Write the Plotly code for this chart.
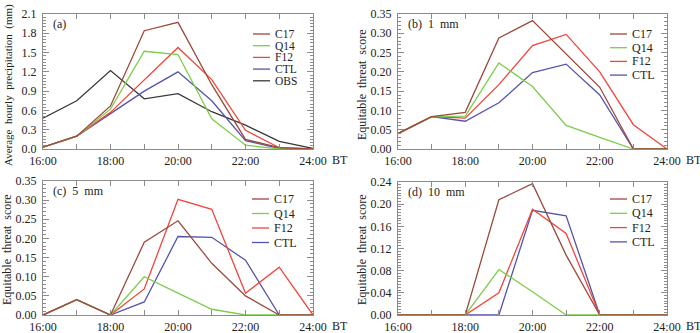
import plotly.graph_objects as go

hours = [16, 17, 18, 19, 20, 21, 22, 23, 24]
xtick_vals = [16, 17, 18, 19, 20, 21, 22, 23, 24]
xtick_text = ["16:00", "", "18:00", "", "20:00", "", "22:00", "", "24:00"]

# (a) average hourly precipitation (mm)
a_C17 = [0.03, 0.20, 0.67, 1.84, 1.97, 1.00, 0.15, 0.02, 0.00]
a_Q14 = [0.03, 0.20, 0.62, 1.52, 1.47, 0.47, 0.06, 0.00, 0.00]
a_F12 = [0.03, 0.20, 0.57, 1.07, 1.58, 1.08, 0.29, 0.02, 0.00]
a_CTL = [0.03, 0.20, 0.55, 0.90, 1.20, 0.75, 0.13, 0.01, 0.00]
a_OBS = [0.48, 0.75, 1.22, 0.78, 0.86, 0.58, 0.37, 0.12, 0.01]

# (b) ETS 1 mm
b_C17 = [0.040, 0.084, 0.095, 0.288, 0.333, 0.247, 0.160, 0.000, 0.000]
b_Q14 = [0.040, 0.084, 0.085, 0.223, 0.162, 0.061, 0.030, 0.000, 0.000]
b_F12 = [0.040, 0.084, 0.080, 0.167, 0.268, 0.297, 0.200, 0.063, 0.000]
b_CTL = [0.040, 0.084, 0.072, 0.120, 0.198, 0.220, 0.140, 0.000, 0.000]

# (c) ETS 5 mm
c_C17 = [0.000, 0.040, 0.000, 0.190, 0.246, 0.135, 0.050, 0.000, 0.000]
c_Q14 = [0.000, 0.040, 0.000, 0.100, 0.057, 0.015, 0.000, 0.000, 0.000]
c_F12 = [0.000, 0.040, 0.000, 0.068, 0.302, 0.276, 0.057, 0.125, 0.000]
c_CTL = [0.000, 0.040, 0.000, 0.034, 0.205, 0.203, 0.143, 0.000, 0.000]

# (d) ETS 10 mm
d_C17 = [0.000, 0.000, 0.000, 0.208, 0.237, 0.108, 0.000, 0.000, 0.000]
d_Q14 = [0.000, 0.000, 0.000, 0.082, 0.042, 0.000, 0.000, 0.000, 0.000]
d_F12 = [0.000, 0.000, 0.000, 0.040, 0.191, 0.147, 0.000, 0.000, 0.000]
d_CTL = [0.000, 0.000, 0.000, 0.000, 0.189, 0.179, 0.000, 0.000, 0.000]

series_names = ["C17", "Q14", "F12", "CTL", "OBS"]
colors = {"C17": "#9c4a3c", "Q14": "#7ccd4a", "F12": "#f2453a",
          "CTL": "#5454ac", "OBS": "#383838"}

W, H = 700, 333
FONT = "Liberation Serif, Times New Roman, serif"
FRAME = "#8c8c8c"
FS = 12

def px(x):
    return x / W

def py(y):
    return 1 - y / H

panels = [
    ("a", {"C17": a_C17, "Q14": a_Q14, "F12": a_F12, "CTL": a_CTL, "OBS": a_OBS},
     (43, 313), (14, 149), (0, 2.1), 0.3, 0.05, ".1f",
     "Average\u00a0 hourly\u00a0 precipitation\u00a0 (mm)", 11, 85, "(a)", (253, 34, 11.7), 8, 11.5),
    ("b", {"C17": b_C17, "Q14": b_Q14, "F12": b_F12, "CTL": b_CTL},
     (398, 667), (14, 149), (0, 0.35), 0.05, 0.01, ".2f",
     "Equitable\u00a0 threat\u00a0 score", 12, 85, "(b)\u00a0 1\u00a0 mm", (610, 34, 13.7), 362, 12),
    ("c", {"C17": c_C17, "Q14": c_Q14, "F12": c_F12, "CTL": c_CTL},
     (43, 313), (181, 315), (0, 0.35), 0.05, 0.01, ".2f",
     "Equitable\u00a0 threat\u00a0 score", 12, 250, "(c)\u00a0 5\u00a0 mm", (252, 199, 14.5), 7, 12),
    ("d", {"C17": d_C17, "Q14": d_Q14, "F12": d_F12, "CTL": d_CTL},
     (398, 667), (182, 315), (0, 0.24), 0.04, 0.005, ".2f",
     "Equitable\u00a0 threat\u00a0 score", 12, 250, "(d)\u00a0 10\u00a0 mm", (610, 199, 14.3), 362, 12),
]

fig = go.Figure()
annotations = []
shapes = []

for i, (key, data, (x0, x1), (yt, yb), yr, ydt, ymin, fmt, ylab, ylfs, ylc, plab, (lx, ly, lstep), ytx, lfs) in enumerate(panels):
    suffix = "" if i == 0 else str(i + 1)
    xa = "x" + suffix
    ya = "y" + suffix
    for name in ["OBS", "CTL", "F12", "Q14", "C17"]:
        if name not in data:
            continue
        fig.add_trace(go.Scatter(x=hours, y=data[name], mode="lines", name=name,
                                 line=dict(color=colors[name], width=1.3),
                                 xaxis=xa, yaxis=ya, showlegend=False, hoverinfo="skip"))
    axis_common = dict(showline=True, linecolor=FRAME, linewidth=1, mirror="ticks",
                       ticks="inside", tickcolor=FRAME, showgrid=False, zeroline=False,
                       automargin=False,
                       tickfont=dict(family=FONT, size=FS, color="#222"))
    fig.layout["xaxis" + suffix] = dict(
        domain=[px(x0), px(x1)], range=[16, 24], anchor=ya,
        tickmode="array", tickvals=xtick_vals, ticktext=xtick_text, ticklen=5,
        ticklabelstandoff=1,
        **axis_common)
    fig.layout["yaxis" + suffix] = dict(
        domain=[py(yb), py(yt)], range=list(yr), anchor=xa,
        tick0=0, dtick=ydt, tickformat=fmt, ticklen=6, ticklabelstandoff=3,
        minor=dict(dtick=ymin, ticklen=3, tickcolor=FRAME, ticks="inside"),
        **axis_common)
    annotations.append(dict(text=ylab, x=px(ytx), y=py(ylc), xref="paper", yref="paper",
                            textangle=-90, showarrow=False, xanchor="center", yanchor="middle",
                            font=dict(family=FONT, size=ylfs, color="#222")))
    annotations.append(dict(text="BT", x=px(x1 + 27), y=py(yb + 11), xref="paper", yref="paper",
                            showarrow=False, xanchor="center", yanchor="middle",
                            font=dict(family=FONT, size=FS, color="#222")))
    annotations.append(dict(text=plab, x=px(x0 + 8), y=py(yt + 10), xref="paper", yref="paper",
                            showarrow=False, xanchor="left", yanchor="middle",
                            font=dict(family=FONT, size=FS, color="#222")))
    for j, name in enumerate([n for n in series_names if n in data]):
        yy = ly + j * lstep
        shapes.append(dict(type="line", xref="paper", yref="paper",
                           x0=px(lx), x1=px(lx + 17), y0=py(yy), y1=py(yy),
                           line=dict(color=colors[name], width=1.3)))
        annotations.append(dict(text=name, x=px(lx + 20), y=py(yy), xref="paper", yref="paper",
                                showarrow=False, xanchor="left", yanchor="middle",
                                font=dict(family=FONT, size=lfs, color="#222")))

fig.update_layout(template="none", width=W, height=H, margin=dict(l=0, r=0, t=0, b=0, pad=0),
                  paper_bgcolor="white", plot_bgcolor="white",
                  font=dict(family=FONT, size=FS, color="#222"),
                  annotations=annotations, shapes=shapes, showlegend=False)

fig.write_html("out.html", config={"displayModeBar": False},
               post_script="document.body.style.margin='0';document.body.style.overflow='hidden';")
